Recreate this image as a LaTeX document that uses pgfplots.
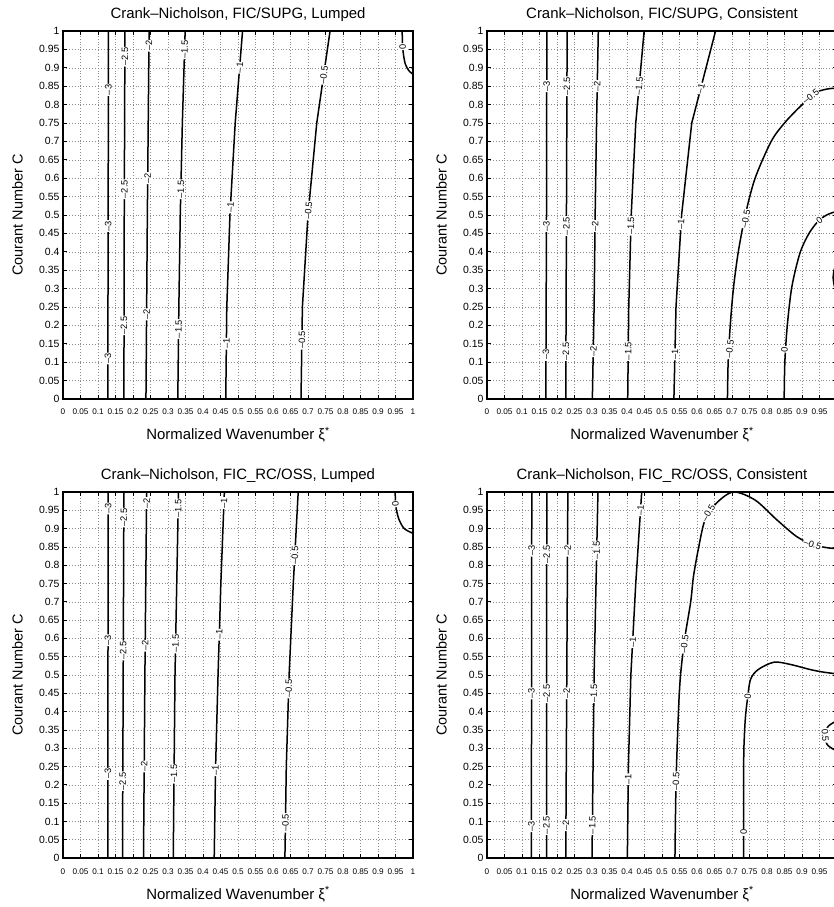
\documentclass[border=0pt]{standalone}
\usepackage{fontspec}
\setmainfont{Liberation Sans}
\usepackage{pgfplots}
\pgfplotsset{compat=1.18}

\def\tk{0,0.05,0.1,0.15,0.2,0.25,0.3,0.35,0.4,0.45,0.5,0.55,0.6,0.65,0.7,0.75,0.8,0.85,0.9,0.95,1}

\pgfplotsset{
  cn/.style={
    scale only axis, width=350bp, height=#1,
    xmin=0, xmax=1, ymin=0, ymax=1,
    xtick=\tk, ytick=\tk, scaled ticks=false,
    /pgf/number format/fixed, /pgf/number format/precision=2,
    /pgf/number format/assume math mode=true,
    grid=major, grid style={black!45, line width=0.5bp, dash pattern=on 0.7bp off 2.2bp},
    tick align=inside, major tick length=4bp,
    tick style={black, line width=0.7bp},
    axis line style={line width=1.4bp},
    xticklabel style={font=\fontsize{8.2}{9}\selectfont, anchor=base, yshift=-16bp},
    yticklabel style={font=\fontsize{10.5}{11}\selectfont},
    title style={font=\fontsize{15}{15}\selectfont, at={(axis description cs:0.5,1)}, anchor=base, yshift=7bp},
    every axis x label/.style={font=\fontsize{15}{15}\selectfont, at={(axis description cs:0.5,0)}, anchor=base, yshift=-41bp},
    every axis y label/.style={font=\fontsize{14.5}{15}\selectfont, at={(axis description cs:-0.13,0.5)}, anchor=center, rotate=90},
    xlabel={Normalized Wavenumber ξ\textsuperscript{*}},
    ylabel={Courant Number C},
  },
  ct/.style={black, line width=1.5bp},
}
\tikzset{lab/.style={sloped, fill=white, inner sep=0.8bp, font=\fontsize{9.3}{9}\selectfont}}

\begin{document}
\begin{tikzpicture}
\path[use as bounding box, clip] (0,0) rectangle (834bp,907bp);

% ---------- FIC/SUPG, Lumped ----------
\begin{axis}[cn=368bp, at={(63bp,508bp)}, anchor=south west,
  title={Crank--Nicholson, FIC/SUPG, Lumped}]
\addplot[ct] coordinates {(0.128,0) (0.129,0.5) (0.130,1)}
  node[lab,pos=0.11]{--3} node[lab,pos=0.47]{--3} node[lab,pos=0.84]{--3};
\addplot[ct] coordinates {(0.174,0) (0.175,0.5) (0.177,1)}
  node[lab,pos=0.2]{--2.5} node[lab,pos=0.57]{--2.5} node[lab,pos=0.93]{--2.5};
\addplot[ct] coordinates {(0.237,0) (0.241,0.5) (0.246,1)}
  node[lab,pos=0.23]{--2} node[lab,pos=0.6]{--2} node[lab,pos=0.96]{--2};
\addplot[ct] coordinates {(0.328,0) (0.331,0.25) (0.335,0.5) (0.341,0.75) (0.349,1)}
  node[lab,pos=0.19]{--1.5} node[lab,pos=0.57]{--1.5} node[lab,pos=0.95]{--1.5};
\addplot[ct] coordinates {(0.465,0) (0.468,0.25) (0.477,0.5) (0.492,0.75) (0.513,1)}
  node[lab,pos=0.15]{--1} node[lab,pos=0.52]{--1} node[lab,pos=0.9]{--1};
\addplot[ct] coordinates {(0.680,0) (0.684,0.25) (0.700,0.5) (0.725,0.75) (0.763,1)}
  node[lab,pos=0.16]{--0.5} node[lab,pos=0.51]{--0.5} node[lab,pos=0.88]{--0.5};
\addplot[ct, smooth] coordinates {(0.969,1) (0.971,0.95) (0.978,0.91) (0.99,0.89) (1,0.883)};
\addplot[draw=none] coordinates {(0.9695,0.975) (0.971,0.94)} node[lab,pos=0.5]{0};
\end{axis}

% ---------- FIC/SUPG, Consistent ----------
\begin{axis}[cn=368bp, at={(487bp,508bp)}, anchor=south west,
  title={Crank--Nicholson, FIC/SUPG, Consistent}]
\addplot[ct] coordinates {(0.168,0) (0.170,0.5) (0.171,1)}
  node[lab,pos=0.12]{--3} node[lab,pos=0.47]{--3} node[lab,pos=0.85]{--3};
\addplot[ct] coordinates {(0.225,0) (0.227,0.5) (0.229,1)}
  node[lab,pos=0.13]{--2.5} node[lab,pos=0.47]{--2.5} node[lab,pos=0.85]{--2.5};
\addplot[ct] coordinates {(0.301,0) (0.306,0.25) (0.309,0.5) (0.313,0.75) (0.318,1)}
  node[lab,pos=0.13]{--2} node[lab,pos=0.47]{--2} node[lab,pos=0.85]{--2};
\addplot[ct] coordinates {(0.402,0) (0.405,0.25) (0.412,0.5) (0.425,0.75) (0.449,1)}
  node[lab,pos=0.13]{--1.5} node[lab,pos=0.47]{--1.5} node[lab,pos=0.85]{--1.5};
\addplot[ct] coordinates {(0.534,0) (0.540,0.25) (0.556,0.5) (0.585,0.75) (0.653,1)}
  node[lab,pos=0.12]{--1} node[lab,pos=0.47]{--1} node[lab,pos=0.84]{--1};
\addplot[ct, smooth] coordinates {(0.687,0) (0.689,0.1) (0.695,0.2) (0.704,0.3) (0.718,0.4)
  (0.738,0.5) (0.766,0.6) (0.812,0.7) (0.850,0.75) (0.894,0.794) (0.937,0.831) (0.970,0.842) (1,0.845)};
\addplot[draw=none] coordinates {(0.690,0.11) (0.697,0.16)} node[lab,pos=0.5]{--0.5};
\addplot[draw=none] coordinates {(0.733,0.46) (0.745,0.52)} node[lab,pos=0.5]{--0.5};
\addplot[draw=none] coordinates {(0.910,0.81) (0.940,0.833)} node[lab,pos=0.5]{--0.5};
\addplot[ct, smooth] coordinates {(0.849,0) (0.851,0.1) (0.858,0.2) (0.871,0.305) (0.894,0.396)
  (0.920,0.45) (0.949,0.486) (0.975,0.502) (1,0.51)};
\addplot[draw=none] coordinates {(0.849,0.11) (0.851,0.16)} node[lab,pos=0.5]{0};
\addplot[draw=none] coordinates {(0.938,0.477) (0.962,0.495)} node[lab,pos=0.5]{0};
\addplot[ct, smooth] coordinates {(1,0.37) (0.993,0.355) (0.989,0.33) (0.993,0.305) (1,0.29)};
\end{axis}

% ---------- FIC_RC/OSS, Lumped ----------
\begin{axis}[cn=366bp, at={(63bp,49bp)}, anchor=south west,
  title={Crank--Nicholson, FIC\_RC/OSS, Lumped}]
\addplot[ct] coordinates {(0.128,0) (0.1285,0.5) (0.129,1)}
  node[lab,pos=0.23]{--3} node[lab,pos=0.595]{--3} node[lab,pos=0.955]{--3};
\addplot[ct] coordinates {(0.170,0) (0.172,0.5) (0.174,1)}
  node[lab,pos=0.21]{--2.5} node[lab,pos=0.567]{--2.5} node[lab,pos=0.93]{--2.5};
\addplot[ct] coordinates {(0.230,0) (0.234,0.5) (0.239,1)}
  node[lab,pos=0.25]{--2} node[lab,pos=0.58]{--2} node[lab,pos=0.97]{--2};
\addplot[ct] coordinates {(0.315,0) (0.320,0.5) (0.330,1)}
  node[lab,pos=0.23]{--1.5} node[lab,pos=0.586]{--1.5} node[lab,pos=0.955]{--1.5};
\addplot[ct] coordinates {(0.432,0) (0.436,0.25) (0.443,0.5) (0.451,0.75) (0.461,1)}
  node[lab,pos=0.24]{--1} node[lab,pos=0.61]{--1} node[lab,pos=0.97]{--1};
\addplot[ct] coordinates {(0.634,0) (0.638,0.25) (0.646,0.5) (0.658,0.75) (0.672,1)}
  node[lab,pos=0.096]{--0.5} node[lab,pos=0.463]{--0.5} node[lab,pos=0.827]{--0.5};
\addplot[ct, smooth] coordinates {(0.949,1) (0.951,0.96) (0.960,0.925) (0.975,0.9) (1,0.887)};
\addplot[draw=none] coordinates {(0.949,0.985) (0.951,0.95)} node[lab,pos=0.5]{0};
\end{axis}

% ---------- FIC_RC/OSS, Consistent ----------
\begin{axis}[cn=366bp, at={(487bp,49bp)}, anchor=south west,
  title={Crank--Nicholson, FIC\_RC/OSS, Consistent}]
\addplot[ct] coordinates {(0.127,0) (0.1272,0.5) (0.128,1)}
  node[lab,pos=0.087]{--3} node[lab,pos=0.45]{--3} node[lab,pos=0.84]{--3};
\addplot[ct] coordinates {(0.170,0) (0.1702,0.5) (0.171,1)}
  node[lab,pos=0.09]{--2.5} node[lab,pos=0.45]{--2.5} node[lab,pos=0.83]{--2.5};
\addplot[ct] coordinates {(0.225,0) (0.228,0.5) (0.231,1)}
  node[lab,pos=0.09]{--2} node[lab,pos=0.45]{--2} node[lab,pos=0.84]{--2};
\addplot[ct] coordinates {(0.300,0) (0.306,0.5) (0.317,1)}
  node[lab,pos=0.09]{--1.5} node[lab,pos=0.45]{--1.5} node[lab,pos=0.84]{--1.5};
\addplot[ct] coordinates {(0.401,0) (0.404,0.25) (0.411,0.5) (0.425,0.75) (0.442,1)}
  node[lab,pos=0.215]{--1} node[lab,pos=0.59]{--1} node[lab,pos=0.95]{--1};
\addplot[ct, smooth] coordinates {(0.537,0) (0.540,0.2) (0.547,0.4) (0.553,0.5) (0.565,0.6)
  (0.582,0.7) (0.590,0.77) (0.605,0.85) (0.623,0.924) (0.656,0.97) (0.704,1.0) (0.766,0.978)
  (0.828,0.924) (0.885,0.878) (0.932,0.856) (0.970,0.848) (1,0.845)};
\addplot[draw=none] coordinates {(0.5395,0.18) (0.5405,0.24)} node[lab,pos=0.5]{--0.5};
\addplot[draw=none] coordinates {(0.561,0.56) (0.567,0.61)} node[lab,pos=0.5]{--0.5};
\addplot[draw=none] coordinates {(0.625,0.93) (0.640,0.955)} node[lab,pos=0.5]{--0.5};
\addplot[draw=none] coordinates {(0.915,0.862) (0.945,0.852)} node[lab,pos=0.5]{--0.5};
\addplot[ct, smooth] coordinates {(0.733,0) (0.733,0.1) (0.733,0.2) (0.734,0.3) (0.738,0.38)
  (0.744,0.433) (0.753,0.488) (0.775,0.515) (0.820,0.535) (0.866,0.529) (0.923,0.515) (0.960,0.508) (1,0.503)};
\addplot[draw=none] coordinates {(0.733,0.05) (0.7332,0.09)} node[lab,pos=0.5]{0};
\addplot[draw=none] coordinates {(0.743,0.425) (0.748,0.46)} node[lab,pos=0.5]{0};
\addplot[ct, smooth] coordinates {(1,0.375) (0.975,0.36) (0.965,0.335) (0.972,0.31) (0.990,0.297) (1,0.295)};
\addplot[draw=none] coordinates {(0.965,0.35) (0.967,0.32)} node[lab,pos=0.5]{0.5};
\end{axis}
\end{tikzpicture}
\end{document}
